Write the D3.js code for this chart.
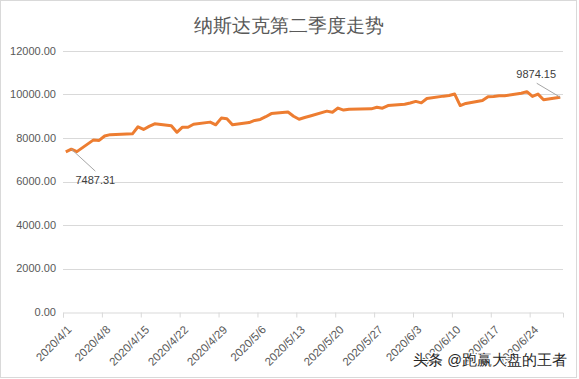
<!DOCTYPE html>
<html>
<head>
<meta charset="utf-8">
<script src="https://cdn.jsdelivr.net/npm/d3@7"></script>
<style>
  body { margin: 0; background: #fff; }
  #chart { width: 579px; height: 379px; }
  text { font-family: "Liberation Sans", Arial, sans-serif; }
</style>
</head>
<body>
<div id="chart"></div>
<script>
// Nasdaq closes, 2020 Q2 (trading days)
var dates = [
  "2020-04-01","2020-04-02","2020-04-03","2020-04-06","2020-04-07","2020-04-08","2020-04-09",
  "2020-04-13","2020-04-14","2020-04-15","2020-04-16","2020-04-17","2020-04-20","2020-04-21",
  "2020-04-22","2020-04-23","2020-04-24","2020-04-27","2020-04-28","2020-04-29","2020-04-30",
  "2020-05-01","2020-05-04","2020-05-05","2020-05-06","2020-05-07","2020-05-08","2020-05-11",
  "2020-05-12","2020-05-13","2020-05-14","2020-05-15","2020-05-18","2020-05-19","2020-05-20",
  "2020-05-21","2020-05-22","2020-05-26","2020-05-27","2020-05-28","2020-05-29","2020-06-01",
  "2020-06-02","2020-06-03","2020-06-04","2020-06-05","2020-06-08","2020-06-09","2020-06-10",
  "2020-06-11","2020-06-12","2020-06-15","2020-06-16","2020-06-17","2020-06-18","2020-06-19",
  "2020-06-22","2020-06-23","2020-06-24","2020-06-25","2020-06-26","2020-06-29"
];
var closes = [
  7360.58, 7487.31, 7373.08, 7913.24, 7887.26, 8090.90, 8153.58,
  8192.42, 8515.74, 8393.18, 8532.36, 8650.14, 8560.73, 8263.23,
  8495.38, 8494.75, 8634.52, 8730.16, 8607.73, 8914.71, 8889.55,
  8604.95, 8710.71, 8809.12, 8854.39, 8979.66, 9121.32, 9192.34,
  9002.55, 8863.17, 8943.72, 9014.56, 9234.83, 9185.10, 9375.78,
  9284.88, 9324.59, 9340.22, 9412.36, 9368.99, 9489.87, 9552.05,
  9608.38, 9682.91, 9615.81, 9814.08, 9924.75, 9953.75, 10020.35,
  9492.73, 9588.81, 9726.02, 9895.87, 9910.53, 9943.05, 9946.12,
  10056.48, 10131.37, 9909.17, 10017.00, 9757.22, 9874.15
];
var tickDates = ["2020-04-01","2020-04-08","2020-04-15","2020-04-22","2020-04-29","2020-05-06",
  "2020-05-13","2020-05-20","2020-05-27","2020-06-03","2020-06-10","2020-06-17","2020-06-24"];
var yTicks = [0, 2000, 4000, 6000, 8000, 10000, 12000];
var labelled = ["2020-04-02", "2020-06-29"];
var title = "纳斯达克第二季度走势";
var watermark = "头条 @跑赢大盘的王者";

var W = 579, H = 379;
var margin = { top: 51, right: 16, bottom: 67, left: 63 };

var parse = d3.timeParse("%Y-%m-%d");
var fmtTick = d3.timeFormat("%Y/%-m/%-d");
var data = dates.map(function (d, i) { return { date: parse(d), value: closes[i] }; });

var svg = d3.select("#chart").append("svg")
  .attr("width", W).attr("height", H);

// chart frame
svg.append("rect")
  .attr("x", 0.5).attr("y", 0.5)
  .attr("width", W - 3).attr("height", H - 2)
  .attr("fill", "#fff").attr("stroke", "#d9d9d9");

// date axis: each day is a slot, points sit in the middle
var x = d3.scaleTime()
  .domain([parse("2020-04-01"), parse("2020-06-30")])
  .range([margin.left, W - margin.right]);
var y = d3.scaleLinear()
  .domain([0, 12000])
  .range([H - margin.bottom, margin.top]);
var mid = function (d) { return x(d3.timeHour.offset(d, 12)); };

// gridlines + y labels
var gy = svg.append("g");
gy.selectAll("line").data(yTicks.slice(1)).enter().append("line")
  .attr("x1", margin.left).attr("x2", W - margin.right)
  .attr("y1", function (d) { return Math.round(y(d)) + 0.5; })
  .attr("y2", function (d) { return Math.round(y(d)) + 0.5; })
  .attr("stroke", "#d9d9d9").attr("stroke-width", 1);
gy.selectAll("text").data(yTicks).enter().append("text")
  .attr("x", margin.left - 7)
  .attr("y", function (d) { return y(d); })
  .attr("dy", "0.35em")
  .attr("text-anchor", "end")
  .attr("font-size", 11)
  .attr("fill", "#595959")
  .text(function (d) { return d3.format(".2f")(d); });

// x axis
var xAxis = d3.axisBottom(x)
  .tickValues(tickDates.map(parse))
  .tickSize(5)
  .tickFormat(fmtTick);
var gx = svg.append("g")
  .attr("transform", "translate(0," + (Math.round(y(0)) + 0.5) + ")")
  .call(xAxis);
gx.select(".domain").attr("stroke", "#d9d9d9");
gx.selectAll(".tick line").attr("stroke", "#d9d9d9");
gx.selectAll(".tick text")
  .attr("font-family", "Liberation Sans, Arial, sans-serif")
  .attr("font-size", 11.5)
  .attr("fill", "#595959")
  .attr("text-anchor", "end")
  .attr("y", 0)
  .attr("dy", "0.35em")
  .attr("transform", "translate(6,15) rotate(-45)");

// line
var line = d3.line()
  .x(function (d) { return mid(d.date); })
  .y(function (d) { return y(d.value); });
svg.append("path")
  .datum(data)
  .attr("d", line)
  .attr("fill", "none")
  .attr("stroke", "#ED7D31")
  .attr("stroke-width", 3)
  .attr("stroke-linejoin", "round");

// data labels with leader lines
var offsets = { "2020-04-02": [24, 31], "2020-06-29": [-24, -23] };
labelled.forEach(function (ds) {
  var p = data[dates.indexOf(ds)];
  var px = mid(p.date), py = y(p.value);
  var o = offsets[ds];
  var tx = px + o[0], ty = py + o[1];
  svg.append("line")
    .attr("x1", px).attr("y1", py)
    .attr("x2", o[0] > 0 ? tx : tx + 0.5)
    .attr("y2", o[1] > 0 ? ty - 9 : ty + 9)
    .attr("stroke", "#a6a6a6").attr("stroke-width", 1);
  svg.append("text")
    .attr("x", tx).attr("y", ty)
    .attr("dy", "0.35em")
    .attr("text-anchor", "middle")
    .attr("font-size", 11)
    .attr("fill", "#404040")
    .text(d3.format(".2f")(p.value));
});

// title
svg.append("text")
  .attr("x", 289).attr("y", 26)
  .attr("dy", "0.35em")
  .attr("text-anchor", "middle")
  .attr("font-family", "Noto Sans CJK SC, sans-serif")
  .attr("font-size", 18.5)
  .attr("font-weight", 500)
  .attr("fill", "#595959")
  .text(title);

// watermark
svg.append("text")
  .attr("x", 567).attr("y", 360)
  .attr("dy", "0.35em")
  .attr("text-anchor", "end")
  .attr("font-family", "Noto Sans CJK SC, sans-serif")
  .attr("font-size", 14.5)
  .attr("fill", "#262626")
  .attr("stroke", "#fff").attr("stroke-width", 2)
  .attr("paint-order", "stroke")
  .text(watermark);
</script>
</body>
</html>
